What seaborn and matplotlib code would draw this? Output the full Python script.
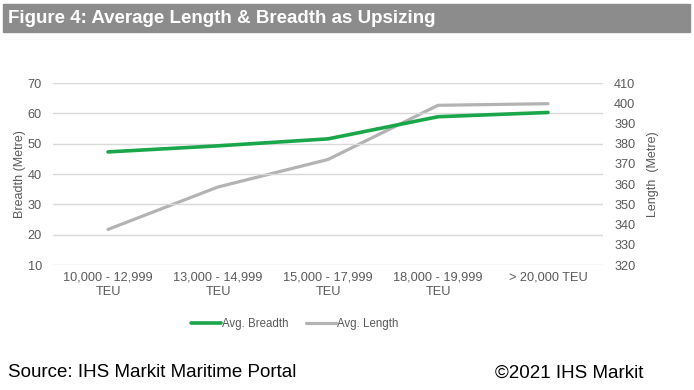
import pandas as pd
import matplotlib.pyplot as plt
import seaborn as sns

# 数据
categories = ["10,000 - 12,999\nTEU", "13,000 - 14,999\nTEU", "15,000 - 17,999\nTEU",
              "18,000 - 19,999\nTEU", "> 20,000 TEU"]
breadth = [47.3, 49.3, 51.6, 58.9, 60.3]
length = [337.6, 358.6, 372.2, 399.0, 399.8]

sns.set_style("white")
plt.rcParams["font.family"] = ["Liberation Sans", "DejaVu Sans"]

df = pd.DataFrame({"pos": range(len(categories)), "breadth": breadth, "length": length})

fig = plt.figure(figsize=(6.94, 3.90), dpi=100)
ax = fig.add_axes([0.0764, 0.3205, 0.7925, 0.4665])
ax2 = ax.twinx()

tick_c = "#595959"
green = "#1aa64a"
grey = "#b3b3b3"

ax.set_zorder(2)
ax.patch.set_visible(False)

sns.lineplot(data=df, x="pos", y="length", ax=ax2, color=grey, linewidth=2.3, sort=False)
sns.lineplot(data=df, x="pos", y="breadth", ax=ax, color=green, linewidth=2.6, sort=False)

ax.set_xlim(-0.5, 4.5)
ax.set_ylim(10, 70)
ax.set_yticks(range(10, 71, 10))
ax2.set_ylim(320, 410)
ax2.set_yticks(range(320, 411, 10))
ax.set_xticks(df["pos"])
ax.set_xticklabels(categories, fontsize=9.2, color=tick_c, linespacing=1.25)
ax.tick_params(axis="y", labelsize=9.2, labelcolor=tick_c, length=0, pad=8)
ax.tick_params(axis="x", length=0, pad=5)
ax2.tick_params(axis="y", labelsize=9.2, labelcolor=tick_c, length=0, pad=8)
ax.grid(axis="y", color="#d9d9d9", linewidth=1)
for a in (ax, ax2):
    for s in a.spines.values():
        s.set_visible(False)
    a.set_xlabel("")
ax.set_ylabel("Breadth (Metre)", fontsize=9, color=tick_c)
ax.yaxis.set_label_coords(-0.05, 0.5)
ax2.set_ylabel("Length  (Metre)", fontsize=9, color=tick_c)
ax2.yaxis.set_label_coords(1.080, 0.5)

handles = [plt.Line2D([], [], color=green, linewidth=2.6),
           plt.Line2D([], [], color=grey, linewidth=2.3)]
fig.legend(handles, ["Avg. Breadth", "Avg. Length"], loc="center", bbox_to_anchor=(0.425, 0.168),
           ncol=2, frameon=False, fontsize=8.3, labelcolor=tick_c, handlelength=2.6,
           handletextpad=0.1, columnspacing=1.5)

# 标题栏
fig.patches.append(plt.Rectangle((0.004, 0.918), 0.99, 0.072, transform=fig.transFigure,
                                 color="#8c8c8c", zorder=0))
fig.text(0.012, 0.953, "Figure 4: Average Length & Breadth as Upsizing", fontsize=13.5,
         fontweight="bold", color="white", va="center")

fig.text(0.012, 0.044, "Source: IHS Markit Maritime Portal", fontsize=13.5, color="black", va="center")
fig.text(0.927, 0.044, "©2021 IHS Markit", fontsize=13.5, color="black", va="center", ha="right")

fig.savefig("out.png", dpi=100)
